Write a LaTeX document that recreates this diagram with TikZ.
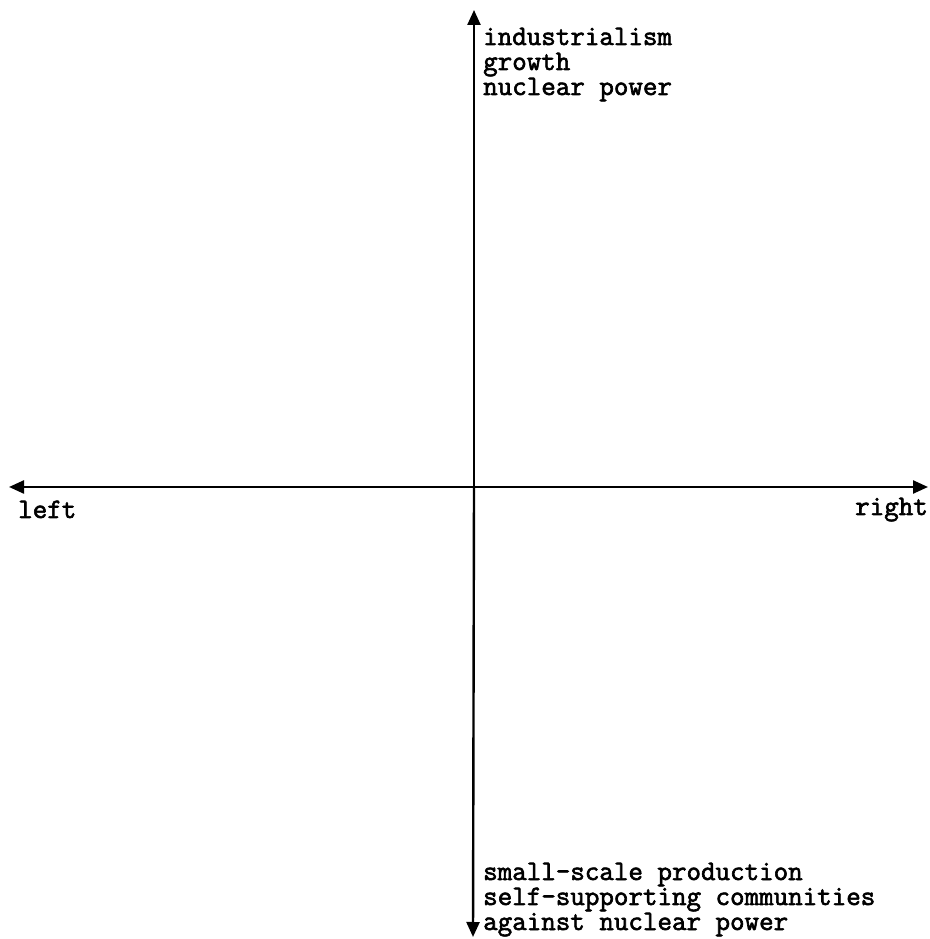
\documentclass[tikz,border=0pt]{standalone}
\usepackage{fontspec}
\setmonofont{Latin Modern Mono}[FakeBold=2.2]
\usetikzlibrary{arrows.meta}
\begin{document}
\begin{tikzpicture}[x=1pt,y=1pt,
  axis/.style={line width=2.4pt, black, -{Triangle[length=15pt,width=13pt]}},
  lab/.style={anchor=base west, inner sep=0pt, align=left, font=\ttfamily\fontsize{28.2}{25}\selectfont}]
\useasboundingbox (0,0) rectangle (929,939);
\coordinate (c) at (474,452);
\coordinate (top) at (474,929);
\coordinate (bot) at (473,2);
\coordinate (lft) at (9,452);
\coordinate (rgt) at (928,452);
\draw[axis] (c) -- (top);
\draw[axis] (c) -- (bot);
\draw[axis] (c) -- (lft);
\draw[axis] (c) -- (rgt);
% base anchor of a multi-line node = baseline of its last line
\node[lab] (t) at (483,844) {industrialism\\growth\\nuclear power};
\node[lab] (b) at (483,9) {small-scale production\\self-supporting communities\\against nuclear power};
\node[lab] (l) at (18,421) {left};
\node[lab] (r) at (855,424) {right};
\end{tikzpicture}
\end{document}
